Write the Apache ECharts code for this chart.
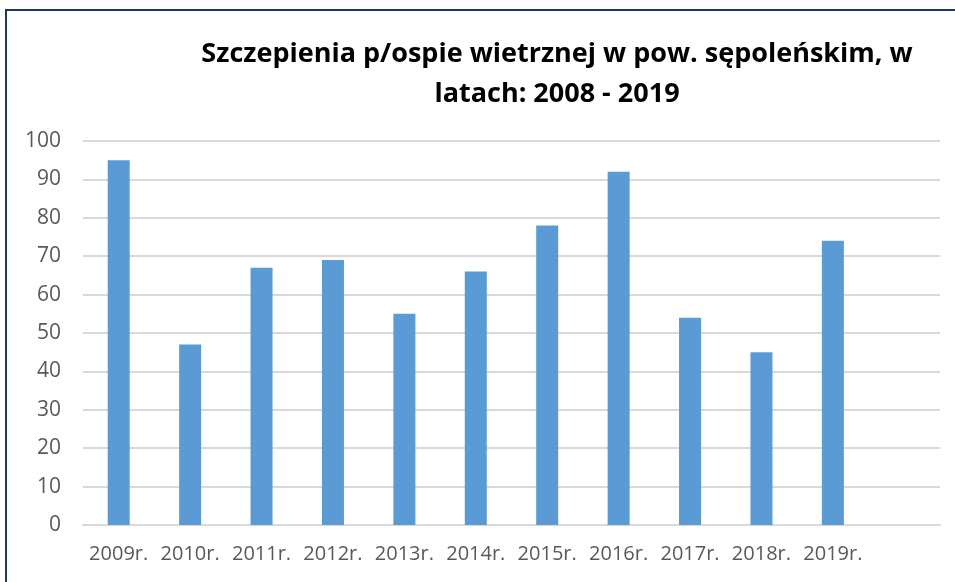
<!DOCTYPE html>
<html>
<head>
<meta charset="utf-8">
<script src="https://cdn.jsdelivr.net/npm/echarts@6/dist/echarts.min.js"></script>
<style>
  html, body { margin: 0; padding: 0; background: #fff; }
  #frame {
    position: absolute; left: 5px; top: 9px; width: 960px; height: 590px;
    border-left: 2px solid #1f3864; border-top: 2px solid #1f3864;
  }
  #chart { position: absolute; left: 0; top: 0; width: 955px; height: 582px; }
</style>
</head>
<body>
<div id="frame"></div>
<div id="chart"></div>
<script>
const years = ['2009r.', '2010r.', '2011r.', '2012r.', '2013r.', '2014r.', '2015r.', '2016r.', '2017r.', '2018r.', '2019r.', '']
const vaccinations = [95, 47, 67, 69, 55, 66, 78, 92, 54, 45, 74, null]

const chart = echarts.init(document.getElementById('chart'))

chart.setOption({
  animation: false,
  title: {
    text: 'Szczepienia p/ospie wietrznej w pow. sępoleńskim, w\nlatach: 2008 - 2019',
    left: 552,
    top: 29,
    textAlign: 'center',
    textStyle: {
      fontFamily: 'Open Sans',
      fontWeight: 'bold',
      fontSize: 27,
      lineHeight: 40,
      color: '#000'
    }
  },
  grid: { left: 83, right: 15, top: 141, bottom: 57 },
  xAxis: {
    type: 'category',
    data: years,
    axisLine: { lineStyle: { color: '#d9d9d9', width: 2 } },
    axisTick: { show: false },
    axisLabel: {
      interval: 0,
      margin: 19,
      fontFamily: 'Open Sans',
      fontSize: 20,
      color: '#595959'
    }
  },
  yAxis: {
    type: 'value',
    min: 0,
    max: 100,
    interval: 10,
    axisLine: { show: false },
    axisTick: { show: false },
    splitLine: { lineStyle: { color: '#d9d9d9', width: 2 } },
    axisLabel: {
      margin: 22,
      fontFamily: 'Open Sans',
      fontSize: 21,
      color: '#595959'
    }
  },
  series: [{
    type: 'bar',
    data: vaccinations,
    barWidth: 22,
    itemStyle: { color: '#5b9bd5' }
  }]
})
</script>
</body>
</html>
